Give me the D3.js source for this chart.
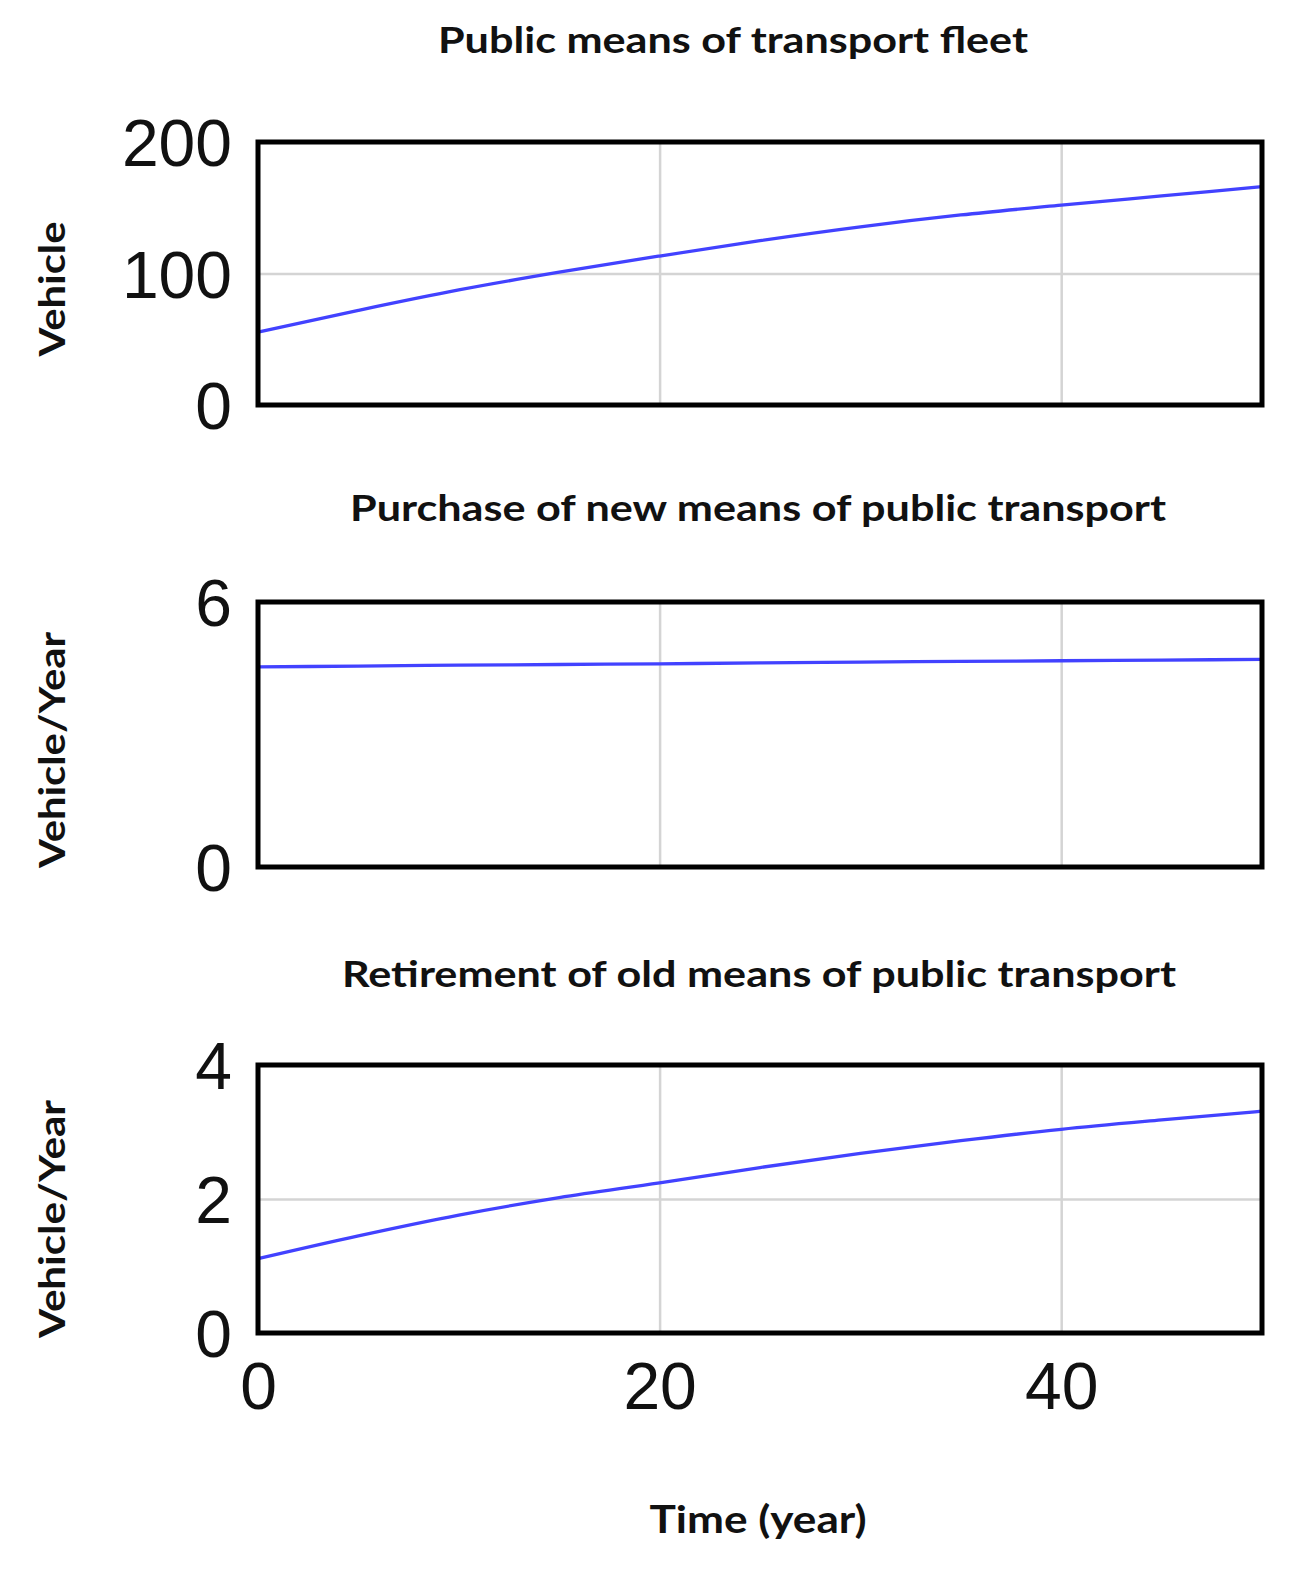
<!DOCTYPE html>
<html><head><meta charset="utf-8">
<script src="https://cdn.jsdelivr.net/npm/d3@7"></script>
<style>
html,body{margin:0;padding:0;background:#fff;}
svg{display:block;}
</style></head>
<body>
<svg id="chart" width="1295" height="1571"></svg>
<script>
// ---- data ----
const years = [0, 5, 10, 15, 20, 25, 30, 35, 40, 45, 50];
const fleet = [55.5, 72, 87.5, 101, 113.3, 125, 135.5, 144.5, 152, 159, 166];
const purchase = [4.53, 4.55, 4.57, 4.585, 4.60, 4.62, 4.64, 4.655, 4.67, 4.685, 4.70];
const retirement = [1.11, 1.45, 1.76, 2.02, 2.24, 2.47, 2.68, 2.87, 3.04, 3.18, 3.31];
const titles = ["Public means of transport fleet", "Purchase of new means of public transport", "Retirement of old means of public transport"];
const yLabels = ["Vehicle", "Vehicle/Year", "Vehicle/Year"];
const yDomains = [[0, 200], [0, 6], [0, 4]];
const yTicks = [[0, 100, 200], [0, 6], [0, 2, 4]];
const yGrid = [[100], [], [2]];
const xTicks = [0, 20, 40];
const xGrid = [20, 40];
const xLabel = "Time (year)";
const seriesList = [fleet, purchase, retirement];

// ---- layout ----
const svg = d3.select("#chart");
const left = 258, right = 1262;
const panels = [
  {top: 142, bottom: 405, titleY: 53, titleX: 733, titleLen: 590, labY: 289, labLen: 135},
  {top: 602, bottom: 867, titleY: 521, titleX: 758, titleLen: 816, labY: 750, labLen: 236},
  {top: 1065, bottom: 1333, titleY: 987, titleX: 759, titleLen: 834, labY: 1219, labLen: 238}
];
const x = d3.scaleLinear().domain([0, 50]).range([left, right]);
const boldFont = "Lato, 'Open Sans', sans-serif";
const tickFont = "'Liberation Sans', Arial, sans-serif";

panels.forEach((p, i) => {
  const y = d3.scaleLinear().domain(yDomains[i]).range([p.bottom, p.top]);
  const g = svg.append("g");

  // vertical grid
  g.append("g").attr("transform", `translate(0,${p.bottom})`)
    .call(d3.axisBottom(x).tickValues(xGrid).tickSize(-(p.bottom - p.top)).tickFormat(""))
    .call(a => a.select(".domain").remove())
    .call(a => a.selectAll("line").attr("stroke", "#d4d4d4").attr("stroke-width", 2.5));
  // horizontal grid
  if (yGrid[i].length) {
    g.append("g").attr("transform", `translate(${left},0)`)
      .call(d3.axisLeft(y).tickValues(yGrid[i]).tickSize(-(right - left)).tickFormat(""))
      .call(a => a.select(".domain").remove())
      .call(a => a.selectAll("line").attr("stroke", "#d4d4d4").attr("stroke-width", 2.5));
  }

  // line
  g.append("path")
    .datum(years.map((yr, k) => [yr, seriesList[i][k]]))
    .attr("fill", "none")
    .attr("stroke", "#4242ff")
    .attr("stroke-width", 3.3)
    .attr("d", d3.line().curve(d3.curveMonotoneX).x(d => x(d[0])).y(d => y(d[1])));

  // frame
  g.append("rect").attr("x", left).attr("y", p.top)
    .attr("width", right - left).attr("height", p.bottom - p.top)
    .attr("fill", "none").attr("stroke", "#000").attr("stroke-width", 5);

  // y tick labels
  g.append("g").attr("transform", `translate(${left},0)`)
    .call(d3.axisLeft(y).tickValues(yTicks[i]).tickSize(0).tickPadding(26).tickFormat(d3.format("d")))
    .call(a => a.select(".domain").remove())
    .call(a => a.selectAll("text").attr("font-family", tickFont).attr("font-size", 66).attr("fill", "#111").attr("dy", "0.36em"));

  // title
  svg.append("text").attr("x", p.titleX).attr("y", p.titleY)
    .attr("text-anchor", "middle").attr("font-family", boldFont).attr("font-weight", "bold")
    .attr("font-size", 36).attr("fill", "#111")
    .attr("textLength", p.titleLen).attr("lengthAdjust", "spacingAndGlyphs")
    .text(titles[i]);

  // y label
  svg.append("text").attr("transform", `translate(65,${p.labY}) rotate(-90)`)
    .attr("text-anchor", "middle").attr("font-family", boldFont).attr("font-weight", "bold")
    .attr("font-size", 36).attr("fill", "#111")
    .attr("textLength", p.labLen).attr("lengthAdjust", "spacingAndGlyphs")
    .text(yLabels[i]);
});

// x tick labels (bottom panel only)
svg.append("g").attr("transform", `translate(0,${panels[2].bottom})`)
  .call(d3.axisBottom(x).tickValues(xTicks).tickSize(0).tickPadding(29).tickFormat(d3.format("d")))
  .call(a => a.select(".domain").remove())
  .call(a => a.selectAll("text").attr("font-family", tickFont).attr("font-size", 66).attr("fill", "#111"));

// x label
svg.append("text").attr("x", 758).attr("y", 1533)
  .attr("text-anchor", "middle").attr("font-family", boldFont).attr("font-weight", "bold")
  .attr("font-size", 38).attr("fill", "#111")
  .attr("textLength", 217).attr("lengthAdjust", "spacingAndGlyphs")
  .text(xLabel);
</script>
</body></html>
